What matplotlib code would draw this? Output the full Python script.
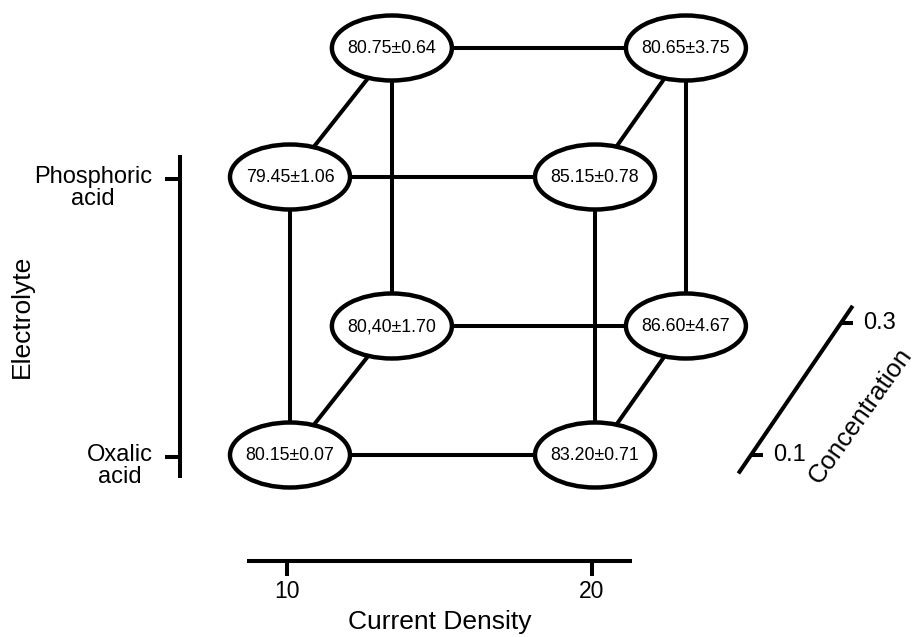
import matplotlib
matplotlib.use("Agg")
import matplotlib.pyplot as plt
from matplotlib.patches import Ellipse

plt.rcParams['font.family'] = ['Liberation Sans', 'DejaVu Sans']

# ---- data ----
current_density = [10, 20]
electrolytes = ["Phosphoric\nacid", "Oxalic\nacid"]
concentrations = [0.1, 0.3]
# node order: (current density, electrolyte index, concentration)
node_cd = [10, 20, 10, 20, 10, 20, 10, 20]
node_el = [0, 0, 1, 1, 0, 0, 1, 1]
node_conc = [0.1, 0.1, 0.1, 0.1, 0.3, 0.3, 0.3, 0.3]
mean_text = ["79.45", "85.15", "80.15", "83.20", "80.75", "80.65", "80,40", "86.60"]
sd_values = [1.06, 0.78, 0.07, 0.71, 0.64, 3.75, 1.70, 4.67]

# ---- oblique projection with slight perspective (pixel-like coordinates) ----
XC, Y0 = 442.5, 177
SX = 30.5          # px per current-density unit on the front face
SY = 278           # px between electrolytes
CX, CY = 482, -645  # px per concentration unit
SHRINK = 0.18


def proj(cd, e, c):
    s = SX * (1 - SHRINK * (c - 0.1))
    return (XC + (cd - 15) * s + (c - 0.1) * CX,
            Y0 + e * SY + (c - 0.1) * CY)


fig = plt.figure(figsize=(9.18, 6.37), dpi=100)
ax = fig.add_axes([0, 0, 1, 1])
ax.set_xlim(0, 918)
ax.set_ylim(637, 0)
ax.axis('off')

LW = 2.9
pts = [proj(cd, e, c) for cd, e, c in zip(node_cd, node_el, node_conc)]

# cube edges
for i in range(8):
    for j in range(i + 1, 8):
        diff = (node_cd[i] != node_cd[j]) + (node_el[i] != node_el[j]) + (node_conc[i] != node_conc[j])
        if diff == 1:
            ax.plot([pts[i][0], pts[j][0]], [pts[i][1], pts[j][1]],
                    color='black', lw=LW, zorder=1, solid_capstyle='butt')

# nodes
for (x, y), m, s in zip(pts, mean_text, sd_values):
    ax.add_patch(Ellipse((x, y), 120, 65, facecolor='white', edgecolor='black',
                         lw=3.2, zorder=2))
    ax.text(x, y + 0.5, f"{m}\u00b1{s:.2f}", ha='center', va='center', fontsize=12.8,
            zorder=3)

# Electrolyte axis
ax_x = 180
ax.plot([ax_x, ax_x], [155, 478], color='black', lw=LW, solid_capstyle='butt')
for e, lab in enumerate(electrolytes):
    y = proj(10, e, 0.1)[1] + 2
    ax.plot([165, ax_x], [y, y], color='black', lw=LW, solid_capstyle='butt')
    ax.text(93 if e == 0 else 120, y + 9, lab, ha='center', va='center',
            fontsize=17, multialignment='center', linespacing=1.05)
ax.text(22, 316, "Electrolyte", rotation=90, ha='center', va='center', fontsize=19)

# Current density axis
ax_y = 561
ax.plot([247, 632], [ax_y, ax_y], color='black', lw=LW, solid_capstyle='butt')
for cd in current_density:
    x = proj(cd, 1, 0.1)[0] - 3
    ax.plot([x, x], [ax_y, 576], color='black', lw=LW, solid_capstyle='butt')
    ax.text(x, 591, str(cd), ha='center', va='center', fontsize=16.5)
ax.text(440, 622, "Current Density", ha='center', va='center', fontsize=19)

# Concentration axis
CO_X, CO_Y = 751, 455


def cproj(c):
    return CO_X + (c - 0.1) * 450, CO_Y + (c - 0.1) * (-660)


p0 = cproj(0.1 - 0.028)
p1 = cproj(0.3 + 0.026)
ax.plot([p0[0], p1[0]], [p0[1], p1[1]], color='black', lw=LW, solid_capstyle='butt')
for c in concentrations:
    x, y = cproj(c)
    ax.plot([x - 1, x + 12], [y, y], color='black', lw=LW, solid_capstyle='butt')
    ax.text(x + 22, y, f"{c:.1f}", ha='left', va='center', fontsize=17)
ax.text(861, 416, "Concentration", rotation=54.5, ha='center', va='center',
        fontsize=18.5, rotation_mode='anchor')

fig.savefig("out.png", dpi=100)
